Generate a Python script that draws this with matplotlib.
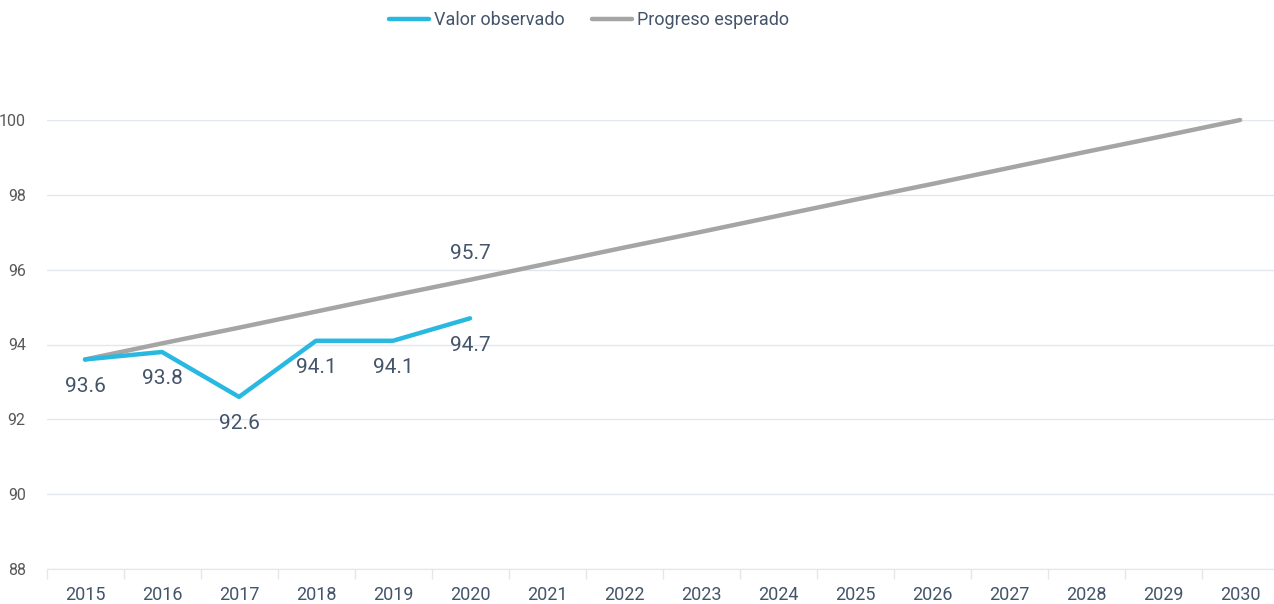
import numpy as np
import matplotlib.pyplot as plt
from matplotlib import font_manager

years = [str(y) for y in range(2015, 2031)]
observed = [93.6, 93.8, 92.6, 94.1, 94.1, 94.7]
expected = [93.6, 94.03, 94.45, 94.88, 95.31, 95.73, 96.16, 96.59,
            97.01, 97.44, 97.87, 98.29, 98.72, 99.15, 99.57, 100.0]
obs_labels = ['93.6', '93.8', '92.6', '94.1', '94.1', '94.7']
exp_label_idx = 5
exp_label = '95.7'

names = {f.name for f in font_manager.fontManager.ttflist}
fam = 'Liberation Sans Narrow' if 'Liberation Sans Narrow' in names else 'Roboto'
plt.rcParams['font.family'] = [fam, 'DejaVu Sans']

txt = '#44546A'
blue = '#29B9E0'
gray = '#A5A5A5'
grid = '#E2E6ED'

fig = plt.figure(figsize=(12.74, 6.04), dpi=100)
ax = fig.add_axes([46.5 / 1274, 35 / 604, 1 - 46.5 / 1274, 449 / 604])

x = np.arange(len(years))
ax.plot(x, expected, color=gray, lw=3.2, solid_capstyle='round', clip_on=False,
        label='Progreso esperado', zorder=3)
ax.plot(x[:len(observed)], observed, color=blue, lw=3.2, solid_capstyle='round',
        clip_on=False, label='Valor observado', zorder=4)

for i, (v, s) in enumerate(zip(observed, obs_labels)):
    ax.annotate(s, (i, v), xytext=(0, -12.5), textcoords='offset points',
                ha='center', va='top', fontsize=15, color=txt)
ax.annotate(exp_label, (exp_label_idx, expected[exp_label_idx]), xytext=(0, 12),
            textcoords='offset points', ha='center', va='bottom', fontsize=15, color=txt)

ax.set_xlim(-0.5, 15.44)
ax.set_ylim(88, 100)
ax.set_yticks(range(88, 101, 2))
ax.set_xticks(x)
ax.set_xticklabels(years)
ax.set_xticks(np.arange(-0.5, 15.5, 1), minor=True)
ax.tick_params(axis='x', which='major', length=0, pad=12, labelsize=13, labelcolor=txt)
ax.tick_params(axis='x', which='minor', length=7, color=grid, width=1)
ax.tick_params(axis='y', length=0, pad=15, labelsize=11.5, labelcolor='#595959')
ax.grid(axis='y', color=grid, lw=1)
ax.set_axisbelow(True)
for s in ['top', 'right', 'left']:
    ax.spines[s].set_visible(False)
ax.spines['bottom'].set_color(grid)

h, l = ax.get_legend_handles_labels()
fig.legend(h[::-1], l[::-1], loc='center', bbox_to_anchor=(589 / 1274, 1 - 20 / 604),
           ncol=2, frameon=False, fontsize=13, labelcolor=txt, handlelength=2.2,
           handletextpad=0.25, columnspacing=1.55)

fig.savefig('out.png', dpi=100)
